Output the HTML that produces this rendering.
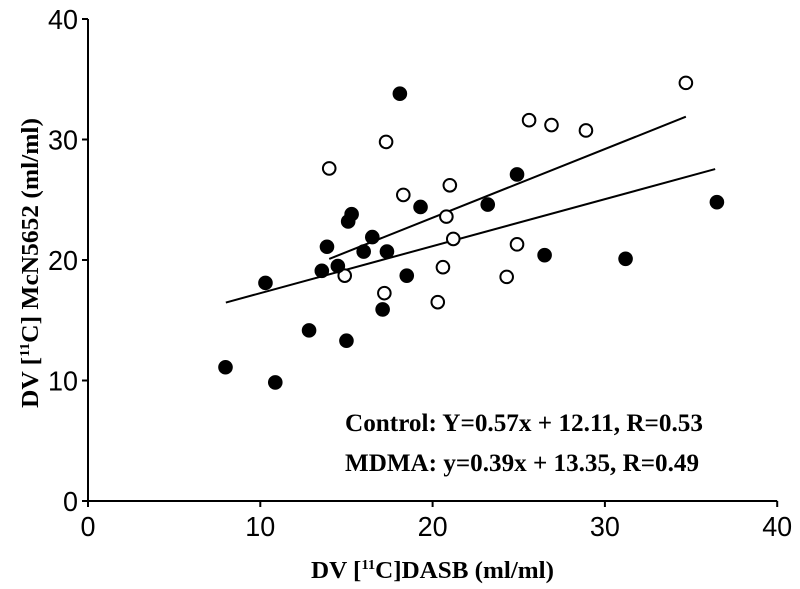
<!DOCTYPE html>
<html><head><meta charset="utf-8"><style>
html,body{margin:0;padding:0;background:#fff;}
svg{display:block;}
</style></head><body>
<svg id="chart" width="800" height="589" viewBox="0 0 800 589" xmlns="http://www.w3.org/2000/svg">
<g id="axes"></g>
<g id="lines"></g>
<g id="pts"></g>
<text x="345" y="431" font-family="Liberation Serif, serif" font-weight="bold" font-size="25" textLength="358" lengthAdjust="spacingAndGlyphs">Control: Y=0.57x + 12.11, R=0.53</text>
<text x="345" y="471" font-family="Liberation Serif, serif" font-weight="bold" font-size="25" textLength="354" lengthAdjust="spacingAndGlyphs">MDMA: y=0.39x + 13.35, R=0.49</text>
<text x="311" y="578" font-family="Liberation Serif, serif" font-weight="bold" font-size="24" textLength="243" lengthAdjust="spacingAndGlyphs">DV [<tspan font-size="14" dy="-9">11</tspan><tspan dy="9">C]DASB (ml/ml)</tspan></text>
<text transform="translate(38,408) rotate(-90)" font-family="Liberation Serif, serif" font-weight="bold" font-size="24" textLength="290" lengthAdjust="spacingAndGlyphs">DV [<tspan font-size="14" dy="-9">11</tspan><tspan dy="9">C] McN5652 (ml/ml)</tspan></text>
</svg>
<script>
const xTicks = [0, 10, 20, 30, 40];
const yTicks = [0, 10, 20, 30, 40];
const mdmaX = [7.98, 10.3, 10.87, 12.83, 13.57, 13.87, 14.5, 15.0, 15.1, 15.3, 16.0, 16.5, 17.1, 17.35, 18.1, 18.5, 19.3, 23.2, 24.9, 26.5, 31.2, 36.5];
const mdmaY = [11.1, 18.1, 9.84, 14.16, 19.1, 21.1, 19.5, 13.3, 23.2, 23.8, 20.7, 21.9, 15.9, 20.7, 33.8, 18.7, 24.4, 24.6, 27.1, 20.4, 20.1, 24.8];
const controlX = [14.0, 14.9, 17.2, 17.3, 18.3, 20.3, 20.6, 20.8, 21.0, 21.2, 24.3, 24.9, 25.6, 26.9, 28.9, 34.7];
const controlY = [27.6, 18.7, 17.25, 29.8, 25.4, 16.5, 19.4, 23.6, 26.2, 21.75, 18.6, 21.3, 31.6, 31.2, 30.75, 34.7];
const controlFit = [0.57, 12.11];
const controlRange = [14.0, 34.7];
const mdmaFit = [0.39, 13.35];
const mdmaRange = [8.0, 36.4];

const NS = "http://www.w3.org/2000/svg";
const sx = v => 88 + v * 17.23;
const sy = v => 501 - v * 12.05;
function mk(tag, attrs, parent) {
  const e = document.createElementNS(NS, tag);
  for (const k in attrs) e.setAttribute(k, attrs[k]);
  parent.appendChild(e);
  return e;
}
const axes = document.getElementById('axes');
let a = mk('line', {x1: sx(0), y1: sy(0), x2: sx(40), y2: sy(0), stroke: '#000', 'stroke-width': 2}, axes);


a = mk('line', {x1: sx(0), y1: sy(0), x2: sx(0), y2: sy(40), stroke: '#000', 'stroke-width': 2}, axes);


xTicks.forEach(t => {
  const l = mk('line', {x1: sx(t), y1: sy(0), x2: sx(t), y2: sy(0) + 6, stroke: '#000', 'stroke-width': 2}, axes);
  
  
  const tx = mk('text', {x: sx(t), y: 536, 'text-anchor': 'middle', 'font-family': 'Liberation Sans, sans-serif', 'font-size': 28, textLength: String(t).length * 15, lengthAdjust: 'spacingAndGlyphs'}, axes);
  tx.textContent = t;
  
  
});
yTicks.forEach(t => {
  const l = mk('line', {x1: sx(0) - 6, y1: sy(t), x2: sx(0), y2: sy(t), stroke: '#000', 'stroke-width': 2}, axes);
  
  
  const tx = mk('text', {x: 78, y: sy(t) + 10, 'text-anchor': 'end', 'font-family': 'Liberation Sans, sans-serif', 'font-size': 28, textLength: String(t).length * 15, lengthAdjust: 'spacingAndGlyphs'}, axes);
  tx.textContent = t;
  
  
});
const lines = document.getElementById('lines');
let ln = mk('line', {x1: sx(controlRange[0]), y1: sy(controlFit[0] * controlRange[0] + controlFit[1]), x2: sx(controlRange[1]), y2: sy(controlFit[0] * controlRange[1] + controlFit[1]), stroke: '#000', 'stroke-width': 2}, lines);


ln = mk('line', {x1: sx(mdmaRange[0]), y1: sy(mdmaFit[0] * mdmaRange[0] + mdmaFit[1]), x2: sx(mdmaRange[1]), y2: sy(mdmaFit[0] * mdmaRange[1] + mdmaFit[1]), stroke: '#000', 'stroke-width': 2}, lines);


const pts = document.getElementById('pts');
controlX.forEach((x, i) => {
  const c = mk('circle', {cx: sx(x), cy: sy(controlY[i]), r: 6.3, fill: '#fff', stroke: '#000', 'stroke-width': 2}, pts);
  
  
});
mdmaX.forEach((x, i) => {
  const c = mk('circle', {cx: sx(x), cy: sy(mdmaY[i]), r: 7.3, fill: '#000'}, pts);
  
  
});
</script>
</body></html>
